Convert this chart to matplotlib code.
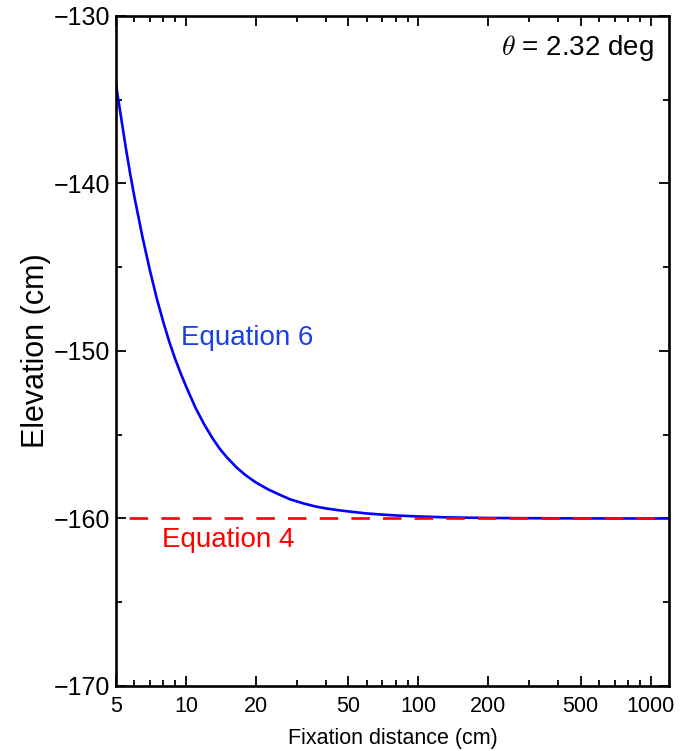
import matplotlib
matplotlib.use("Agg")
import matplotlib.pyplot as plt
from matplotlib.ticker import FixedLocator, FixedFormatter, LogLocator, NullFormatter, MultipleLocator

plt.rcParams['font.family'] = ['Liberation Sans', 'DejaVu Sans']
plt.rcParams['mathtext.fontset'] = 'cm'

# Data
distance = [5, 5.25, 5.5, 5.75, 6, 6.5, 7, 7.5, 8, 8.5, 9, 9.5, 10, 11, 12, 13, 14, 15, 16.5, 18, 20, 22.5,
            25, 28, 32, 36, 40, 45, 50, 60, 70, 80, 100, 130, 160, 200, 300, 500, 700, 1000, 1200]
eq6 = [-134.1, -136.0, -137.8, -139.4, -140.8, -143.2, -145.2, -146.9, -148.3, -149.5, -150.5, -151.35, -152.1,
       -153.4, -154.4, -155.2, -155.85, -156.35, -156.95, -157.4, -157.85, -158.25,
       -158.55, -158.85, -159.1, -159.28, -159.4, -159.5, -159.58, -159.7, -159.77, -159.82, -159.88, -159.93,
       -159.95, -159.97, -159.985, -159.995, -160.0, -160.0, -160.0]
eq4_x = [5, 1200]
eq4_y = [-160, -160]
xticks = [5, 10, 20, 50, 100, 200, 500, 1000]
xticklabels = ['5', '10', '20', '50', '100', '200', '500', '1000']
yticks = [-170, -160, -150, -140, -130]

fig = plt.figure(figsize=(6.93, 7.51), dpi=100)
ax = fig.add_axes([0.1674, 0.0866, 0.7980, 0.8921])

ax.plot(distance, eq6, color=(0, 0, 1), lw=1.9, solid_joinstyle='round')
ax.plot(eq4_x, eq4_y, color=(1, 0, 0), lw=1.9, linestyle=(7, (7, 5)))

ax.set_xscale('log')
ax.set_xlim(5, 1200)
ax.set_ylim(-170, -130)

ax.xaxis.set_major_locator(FixedLocator(xticks))
ax.xaxis.set_major_formatter(FixedFormatter(xticklabels))
ax.xaxis.set_minor_locator(LogLocator(base=10, subs=[2, 3, 4, 5, 6, 7, 8, 9]))
ax.xaxis.set_minor_formatter(NullFormatter())
ax.set_yticks(yticks)
ax.yaxis.set_minor_locator(MultipleLocator(5))

ax.tick_params(which='both', direction='in', top=True, right=True, width=1.3)
ax.tick_params(which='major', length=7)
ax.tick_params(which='minor', length=4)
ax.tick_params(axis='x', labelsize=15.5, pad=7.5)
ax.tick_params(axis='y', labelsize=18, pad=4)
for s in ax.spines.values():
    s.set_linewidth(1.9)

ax.set_ylabel('Elevation (cm)', fontsize=22, labelpad=2)
ax.set_xlabel('Fixation distance (cm)', fontsize=15.5, labelpad=8)

ax.text(9.5, -149.2, 'Equation 6', color='#1a40e8', fontsize=20, va='center', ha='left')
ax.text(7.9, -161.3, 'Equation 4', color=(1, 0, 0), fontsize=20, va='center', ha='left')
ax.text(0.973, 0.952, r'$\theta$ = 2.32 deg', transform=ax.transAxes, fontsize=20, ha='right', va='center')

fig.savefig('out.png', dpi=100)
